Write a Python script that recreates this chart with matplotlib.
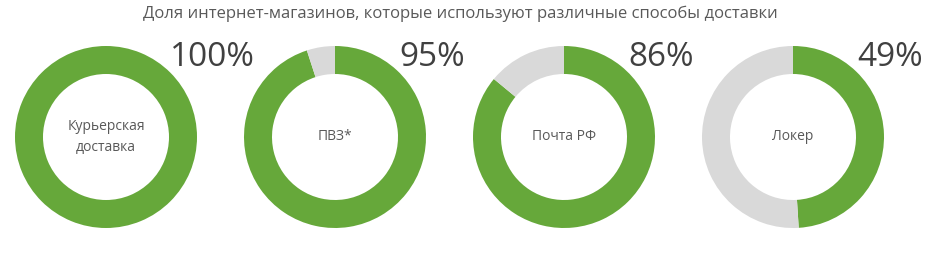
import matplotlib.pyplot as plt

# Share of online shops using each delivery method
methods = ["Курьерская\nдоставка", "ПВЗ*", "Почта РФ", "Локер"]
shares = [100, 95, 86, 49]
pct_labels = ["100%", "95%", "86%", "49%"]
title = "Доля интернет-магазинов, которые используют различные способы доставки"

green = "#66a83a"
grey = "#d9d9d9"

plt.rcParams['font.family'] = ['Open Sans', 'DejaVu Sans']

fig = plt.figure(figsize=(9.25, 2.62), dpi=100)
ax = fig.add_axes([0, 0, 1, 1])

for i, (name, val, lab) in enumerate(zip(methods, shares, pct_labels)):
    cx = 106 + 229 * i
    cy = 125
    ax.pie([val, 100 - val], colors=[green, grey], startangle=90,
           counterclock=False, center=(cx, cy), radius=91,
           wedgeprops=dict(width=28, linewidth=0))
    ax.text(cx, cy, name, ha='center', va='center', fontsize=10,
            color='#595959', linespacing=1.6)
    ax.text(cx + 64, 204, lab, ha='left', va='center', fontsize=24,
            color='#404040')

ax.set_xlim(0, 925)
ax.set_ylim(0, 262)
ax.set_aspect('equal')
ax.axis('off')
ax.text(460, 248, title, ha='center', va='center', fontsize=12,
        color='#595959')

fig.savefig("out.png", dpi=100)
